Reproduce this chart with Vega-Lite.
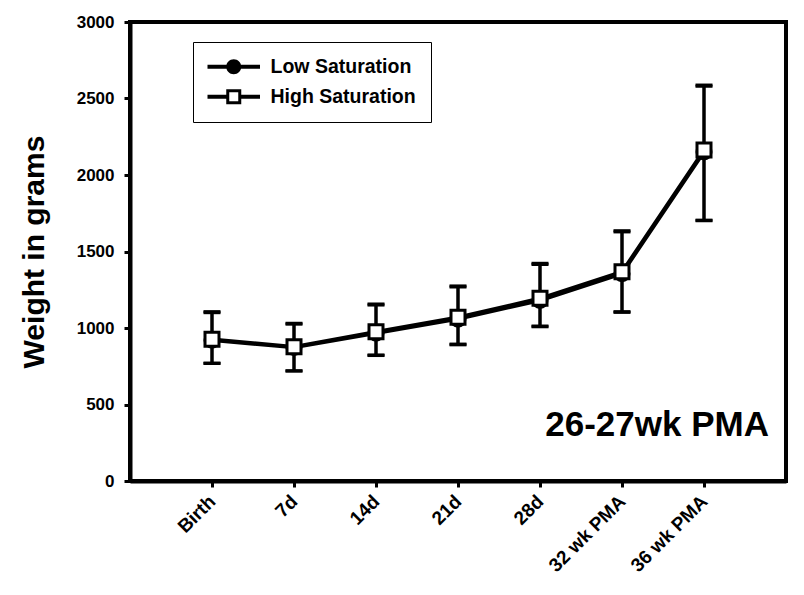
{
  "$schema": "https://vega.github.io/schema/vega-lite/v6.json",
  "width": 656,
  "height": 459,
  "autosize": {"type": "none"},
  "padding": {"left": 130, "top": 22, "right": 18, "bottom": 114},
  "background": "white",
  "config": {
    "font": "Liberation Sans",
    "view": {"stroke": "black", "strokeWidth": 4},
    "axis": {"grid": false, "domainColor": "black", "domainWidth": 4, "tickColor": "black", "tickWidth": 3, "tickSize": 6, "labelColor": "black", "labelFontWeight": "bold", "labelFont": "Liberation Sans", "titleFont": "Liberation Sans", "titleColor": "black"}
  },
  "resolve": {"scale": {"shape": "independent"}},
  "data": {
    "values": [
      {"time": "Birth", "series": "Low Saturation", "mean": 920, "lo": 768, "hi": 1100},
      {"time": "7d", "series": "Low Saturation", "mean": 872, "lo": 718, "hi": 1025},
      {"time": "14d", "series": "Low Saturation", "mean": 966, "lo": 820, "hi": 1150},
      {"time": "21d", "series": "Low Saturation", "mean": 1058, "lo": 890, "hi": 1268},
      {"time": "28d", "series": "Low Saturation", "mean": 1180, "lo": 1008, "hi": 1415},
      {"time": "32 wk PMA", "series": "Low Saturation", "mean": 1355, "lo": 1102, "hi": 1628},
      {"time": "36 wk PMA", "series": "Low Saturation", "mean": 2150, "lo": 1705, "hi": 2580},
      {"time": "Birth", "series": "High Saturation", "mean": 926, "lo": 771, "hi": 1107},
      {"time": "7d", "series": "High Saturation", "mean": 878, "lo": 721, "hi": 1031},
      {"time": "14d", "series": "High Saturation", "mean": 976, "lo": 824, "hi": 1157},
      {"time": "21d", "series": "High Saturation", "mean": 1070, "lo": 895, "hi": 1275},
      {"time": "28d", "series": "High Saturation", "mean": 1194, "lo": 1013, "hi": 1423},
      {"time": "32 wk PMA", "series": "High Saturation", "mean": 1368, "lo": 1107, "hi": 1636},
      {"time": "36 wk PMA", "series": "High Saturation", "mean": 2163, "lo": 1701, "hi": 2588}
    ]
  },
  "encoding": {
    "x": {
      "field": "time", "type": "ordinal",
      "scale": {"type": "point", "padding": 1, "domain": ["Birth", "7d", "14d", "21d", "28d", "32 wk PMA", "36 wk PMA"]},
      "axis": {"title": null, "labelAngle": -45, "labelAlign": "right", "labelBaseline": "middle", "labelFontSize": 19, "labelPadding": 11}
    }
  },
  "layer": [
    {
      "mark": {"type": "rule", "color": "black", "strokeWidth": 3},
      "encoding": {
        "y": {"field": "lo", "type": "quantitative"},
        "y2": {"field": "hi"},
        "detail": {"field": "series"}
      }
    },
    {
      "mark": {"type": "tick", "color": "black", "thickness": 3, "size": 17, "opacity": 1},
      "encoding": {
        "y": {"field": "lo", "type": "quantitative"},
        "detail": {"field": "series"}
      }
    },
    {
      "mark": {"type": "tick", "color": "black", "thickness": 3, "size": 17, "opacity": 1},
      "encoding": {
        "y": {"field": "hi", "type": "quantitative"},
        "detail": {"field": "series"}
      }
    },
    {
      "mark": {"type": "line", "color": "black", "strokeWidth": 3.5},
      "encoding": {
        "y": {"field": "mean", "type": "quantitative"},
        "detail": {"field": "series"}
      }
    },
    {
      "mark": {"type": "point", "size": 196, "strokeWidth": 3, "stroke": "black", "opacity": 1, "filled": true},
      "encoding": {
        "y": {
          "field": "mean", "type": "quantitative",
          "scale": {"domain": [0, 3000]},
          "axis": {"title": "Weight in grams", "titleFontSize": 30, "titleFontWeight": "bold", "titlePadding": 27, "values": [0, 500, 1000, 1500, 2000, 2500, 3000], "format": "d", "labelFontSize": 17, "labelPadding": 10}
        },
        "shape": {
          "field": "series", "type": "nominal",
          "scale": {"domain": ["Low Saturation", "High Saturation"], "range": ["circle", "square"]},
          "legend": null
        },
        "fill": {
          "field": "series", "type": "nominal",
          "scale": {"domain": ["Low Saturation", "High Saturation"], "range": ["black", "white"]},
          "legend": null
        },
        "order": {"field": "series", "sort": "descending"}
      }
    },
    {
      "mark": {"type": "point", "size": 225, "filled": true, "color": "black", "opacity": 0},
      "encoding": {
        "y": {"field": "mean", "type": "quantitative"},
        "shape": {
          "field": "series", "type": "nominal",
          "scale": {"domain": ["Low Saturation", "High Saturation"], "range": [
            "M-3.5,-0.27H3.5V0.27H-3.5Z M-1,0A1,1,0,1,1,1,0A1,1,0,1,1,-1,0Z",
            "M-3.5,-0.27H-1V0.27H-3.5Z M1,-0.27H3.5V0.27H1Z M-1,-1H1V1H-1Z M-0.6,-0.6V0.6H0.6V-0.6Z"
          ]},
          "legend": {
            "title": null,
            "orient": "none",
            "legendX": 63,
            "legendY": 20,
            "padding": 15,
            "symbolSize": 225,
            "symbolOpacity": 1,
            "symbolStrokeWidth": 0,
            "symbolFillColor": "black",
            "symbolOffset": 16,
            "labelOffset": 27,
            "labelFontSize": 19.5,
            "labelFontWeight": "bold",
            "labelColor": "black",
            "labelFont": "Liberation Sans",
            "rowPadding": 9,
            "strokeColor": "black",
            "fillColor": "white"
          }
        }
      }
    },
    {
      "data": {"values": [{"cat": "36 wk PMA", "v": 294, "label": "26-27wk PMA"}]},
      "mark": {"type": "text", "align": "right", "baseline": "alphabetic", "dx": 65, "fontSize": 35, "fontWeight": "bold", "color": "black", "font": "Liberation Sans"},
      "encoding": {
        "x": {"field": "cat", "type": "ordinal"},
        "y": {"field": "v", "type": "quantitative"},
        "text": {"field": "label"}
      }
    }
  ]
}
